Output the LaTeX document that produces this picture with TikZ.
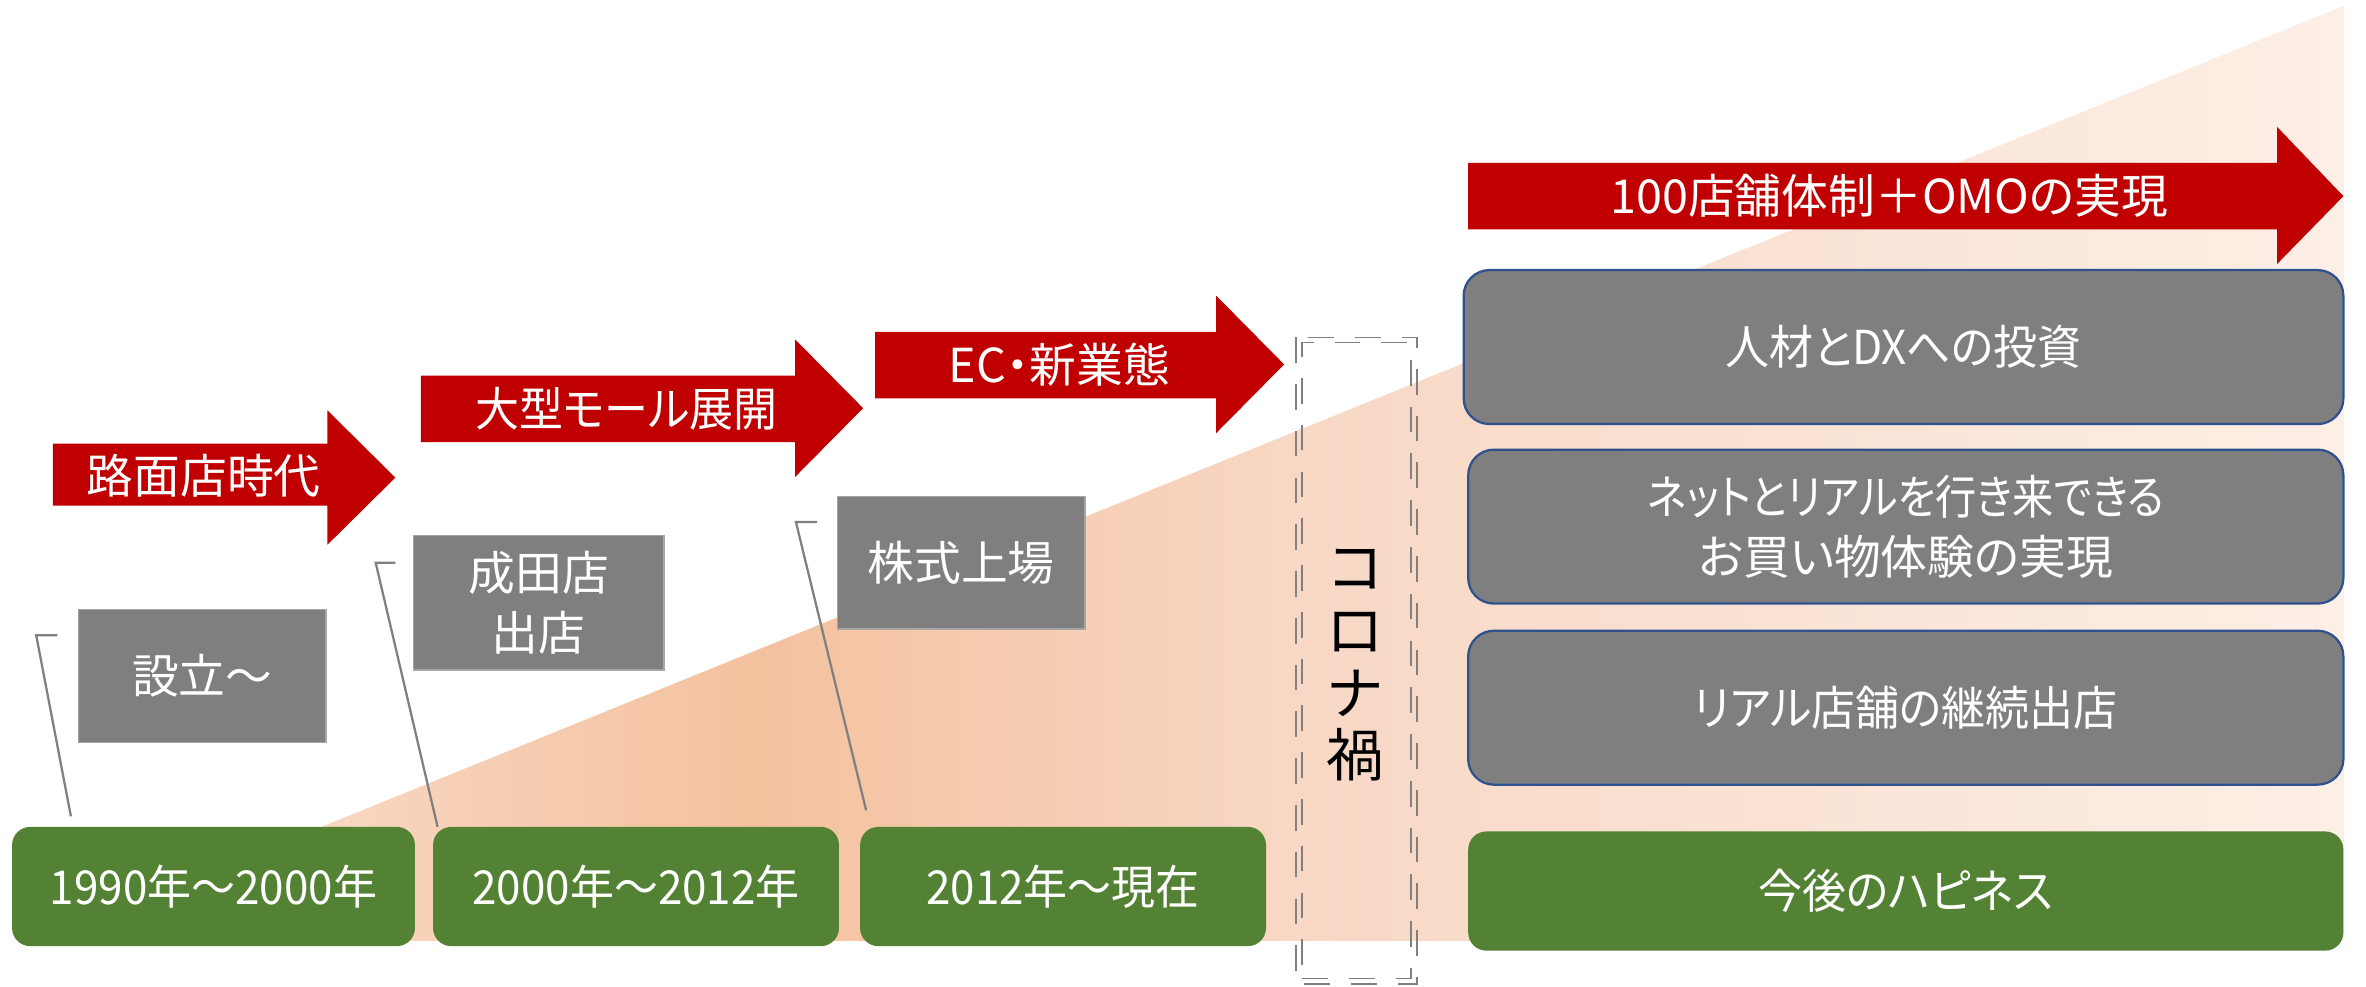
\documentclass[tikz,border=0pt]{standalone}
\usepackage{fontspec}
\newfontfamily\jp{Noto Sans CJK JP}[RawFeature=+palt]
\newfontfamily\jpn{Noto Sans CJK JP}[RawFeature=+palt, FakeStretch=0.94]
\newfontfamily\jpnn{Noto Sans CJK JP}[RawFeature=+palt, FakeStretch=0.88]
\newfontfamily\jpf{Noto Sans CJK JP}
\definecolor{arrowred}{HTML}{C00000}
\definecolor{boxgray}{HTML}{7F7F7F}
\definecolor{boxedge}{HTML}{A6A6A6}
\definecolor{boxgreen}{HTML}{548235}
\definecolor{boxblue}{HTML}{2F528F}
\definecolor{linegray}{HTML}{808080}
\definecolor{pk0}{RGB}{250,228,212}
\definecolor{pk1}{RGB}{248,214,192}
\definecolor{pk2}{RGB}{244,193,158}
\definecolor{pk3}{RGB}{248,215,196}
\definecolor{pk4}{RGB}{250,227,213}
\definecolor{pk5}{RGB}{252,239,230}
\pgfdeclarehorizontalshading{peach}{100bp}{color(0bp)=(pk0); color(25bp)=(pk0); color(31.5bp)=(pk1); color(40.5bp)=(pk2); color(52bp)=(pk3); color(63bp)=(pk4); color(75bp)=(pk5); color(100bp)=(pk5)}
\tikzset{
  redarrow/.style={fill=arrowred},
  lbl/.style={text=white, inner sep=0pt, align=center},
  smallbox/.style={fill=boxgray, draw=boxedge, line width=1pt, inner sep=0pt, outer sep=0pt, anchor=north west, text=white, align=center},
  periodbox/.style={fill=boxgreen, rounded corners=12pt, inner sep=0pt, outer sep=0pt, anchor=north west, text=white, align=center, font=\jpn\fontsize{31}{40}\selectfont},
  planbox/.style={fill=boxgray, draw=boxblue, line width=1.5pt, rounded corners=17pt, inner sep=0pt, outer sep=0pt, anchor=north west, text=white, align=center},
  bracket/.style={draw=linegray, line width=1.5pt},
  dashline/.style={draw=linegray, line width=1pt, dash pattern=on 17pt off 14pt},
}
\begin{document}
\begin{tikzpicture}[x=1pt,y=-1pt, font=\jp\fontsize{31}{40}\selectfont]
\useasboundingbox (0,0) rectangle (1568,654);
% background gradient triangle
\shade[shading=peach] (27,623.5) -- (1553,4) -- (1553,623.5) -- cycle;

% red arrows
\fill[redarrow] (35,294) -- (217,294) -- (217,272) -- (262,316.5) -- (217,361) -- (217,335) -- (35,335) -- cycle;
\node[lbl] (a1) at (135,315) {路面店時代};
\fill[redarrow] (279,249) -- (527,249) -- (527,225) -- (572,270.5) -- (527,316) -- (527,293) -- (279,293) -- cycle;
\node[lbl, font=\jpn\fontsize{31}{40}\selectfont] (a2) at (415,271) {大型モール展開};
\fill[redarrow] (580,220) -- (806,220) -- (806,196) -- (851,241.5) -- (806,287) -- (806,264) -- (580,264) -- cycle;
\node[lbl] (a3) at (702,242) {EC・新業態};
\fill[redarrow] (973,108) -- (1509,108) -- (1509,84) -- (1553,130) -- (1509,175) -- (1509,152) -- (973,152) -- cycle;
\node[lbl] (a4) at (1252,130) {100店舗体制＋OMOの実現};

% milestone boxes
\node[smallbox, minimum width=164pt, minimum height=88pt] (g1) at (52,404) {設立～};
\node[smallbox, minimum width=166pt, minimum height=89pt] (g2) at (274,355) {成田店\\出店};
\node[smallbox, minimum width=164pt, minimum height=88pt] (g3) at (555,329) {株式上場};

% period boxes
\node[periodbox, minimum width=267pt, minimum height=79pt] (p1) at (8,548) {1990年～2000年};
\node[periodbox, minimum width=269pt, minimum height=79pt] (p2) at (287,548) {2000年～2012年};
\node[periodbox, minimum width=269pt, minimum height=79pt] (p3) at (570,548) {2012年～現在};
\node[periodbox, minimum width=580pt, minimum height=79pt] (p4) at (973,551) {今後のハピネス};

% brackets
\coordinate (b1a) at (38,421); \coordinate (b1b) at (24,421); \coordinate (b1c) at (47,541);
\coordinate (b2a) at (262,373); \coordinate (b2b) at (249,373); \coordinate (b2c) at (290,548);
\coordinate (b3a) at (541.5,346); \coordinate (b3b) at (527.5,346); \coordinate (b3c) at (574,537);
\draw[bracket] (b1a) -- (b1b) -- (b1c);
\draw[bracket] (b2a) -- (b2b) -- (b2c);
\draw[bracket] (b3a) -- (b3b) -- (b3c);

% corona dashed double box
\node[dashline, minimum width=72pt, minimum height=421.5pt, inner sep=0pt, outer sep=0pt, anchor=north west] (corona) at (863,227) {};
\draw[dashline] ([xshift=-4pt,yshift=3.5pt]corona.north west) rectangle ([xshift=4pt,yshift=-3.5pt]corona.south east);
\node[inner sep=0pt, align=center, font=\jpf\fontsize{38}{41.5}\selectfont] (ctext) at (898,441) {コ\\ロ\\ナ\\禍};

% plan boxes
\node[planbox, minimum width=583pt, minimum height=102pt, font=\jpn\fontsize{31}{40}\selectfont] (r1) at (970,179) {人材とDXへの投資};
\node[planbox, minimum width=580pt, minimum height=102pt] (r2) at (973,298) {{\jpnn ネットとリアルを行き来できる}\\お買い物体験の実現};
\node[planbox, minimum width=580pt, minimum height=102pt, font=\jpn\fontsize{31}{40}\selectfont] (r3) at (973,418) {リアル店舗の継続出店};
\end{tikzpicture}
\end{document}
